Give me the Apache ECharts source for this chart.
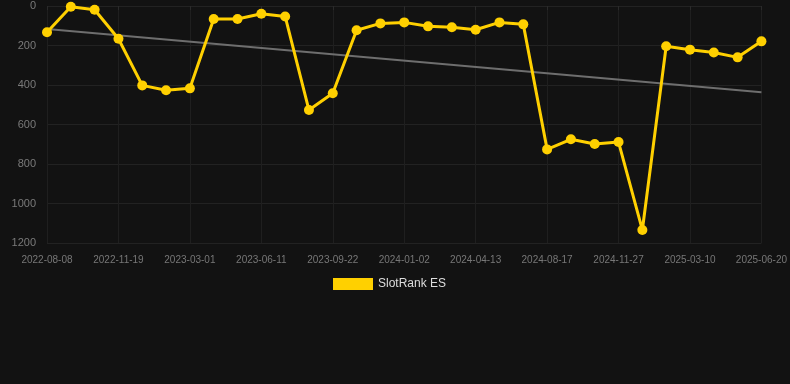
<!DOCTYPE html>
<html>
<head>
<meta charset="utf-8">
<script src="https://cdn.jsdelivr.net/npm/echarts@6/dist/echarts.min.js"></script>
<style>
html,body{margin:0;padding:0;background:#121212;}
#c{width:790px;height:384px;}
</style>
</head>
<body>
<div id="c"></div>
<script>
var categories = [
  '2022-08-08','2022-09-11','2022-10-15','2022-11-19','2022-12-23','2023-01-26','2023-03-01',
  '2023-04-04','2023-05-08','2023-06-11','2023-07-15','2023-08-18','2023-09-22','2023-10-26',
  '2023-11-29','2024-01-02','2024-02-05','2024-03-10','2024-04-13','2024-05-25','2024-07-06',
  '2024-08-17','2024-09-20','2024-10-24','2024-11-27','2024-12-31','2025-02-04','2025-03-10',
  '2025-04-13','2025-05-17','2025-06-20'
];
var rankValues = [
  133, 4, 19, 166, 402, 427, 417,
  66, 66, 39, 53, 527, 442, 123,
  88, 83, 103, 108, 120, 83, 93,
  726, 675, 699, 689, 1134, 204, 221,
  235, 260, 179
];
var trendValues = [117, 437];
var yTicks = [0, 200, 400, 600, 800, 1000, 1200];

var chart = echarts.init(document.getElementById('c'));
chart.setOption({
  backgroundColor: '#121212',
  animation: false,
  grid: {left: 47, right: 28, top: 6, bottom: 141},
  legend: {
    data: ['SlotRank ES'],
    top: 273,
    left: 328,
    itemWidth: 40,
    itemHeight: 12,
    itemGap: 10,
    icon: 'rect',
    textStyle: {color: '#dddddd', fontSize: 12, fontFamily: 'Liberation Sans, Arial, sans-serif'}
  },
  xAxis: {
    type: 'category',
    data: categories,
    boundaryGap: false,
    axisLine: {show: false},
    axisTick: {show: true, interval: 2, length: 4, lineStyle: {color: '#2a2a2a'}},
    axisLabel: {interval: 2, color: '#777777', fontSize: 10, margin: 12, fontFamily: 'Liberation Sans, Arial, sans-serif'},
    splitLine: {show: true, interval: 2, lineStyle: {color: '#1f1f1f'}}
  },
  yAxis: {
    type: 'value',
    inverse: true,
    min: yTicks[0],
    max: yTicks[yTicks.length - 1],
    interval: 200,
    axisLine: {show: false},
    axisTick: {show: false},
    axisLabel: {color: '#7a7a7a', fontSize: 11, margin: 11, fontFamily: 'Liberation Sans, Arial, sans-serif',
      formatter: function (v) { return String(v); }},
    splitLine: {lineStyle: {color: '#222222'}}
  },
  series: [
    {
      name: 'Trend',
      type: 'line',
      data: [[categories[0], trendValues[0]], [categories[categories.length - 1], trendValues[1]]],
      showSymbol: false,
      symbol: 'none',
      lineStyle: {color: '#6e6e6e', width: 2},
      itemStyle: {color: '#6e6e6e'},
      z: 1,
      silent: true
    },
    {
      name: 'SlotRank ES',
      type: 'line',
      data: rankValues,
      symbol: 'circle',
      symbolSize: 10,
      lineStyle: {color: '#ffd000', width: 3},
      itemStyle: {color: '#ffd000'},
      z: 2
    }
  ]
});
</script>
</body>
</html>
